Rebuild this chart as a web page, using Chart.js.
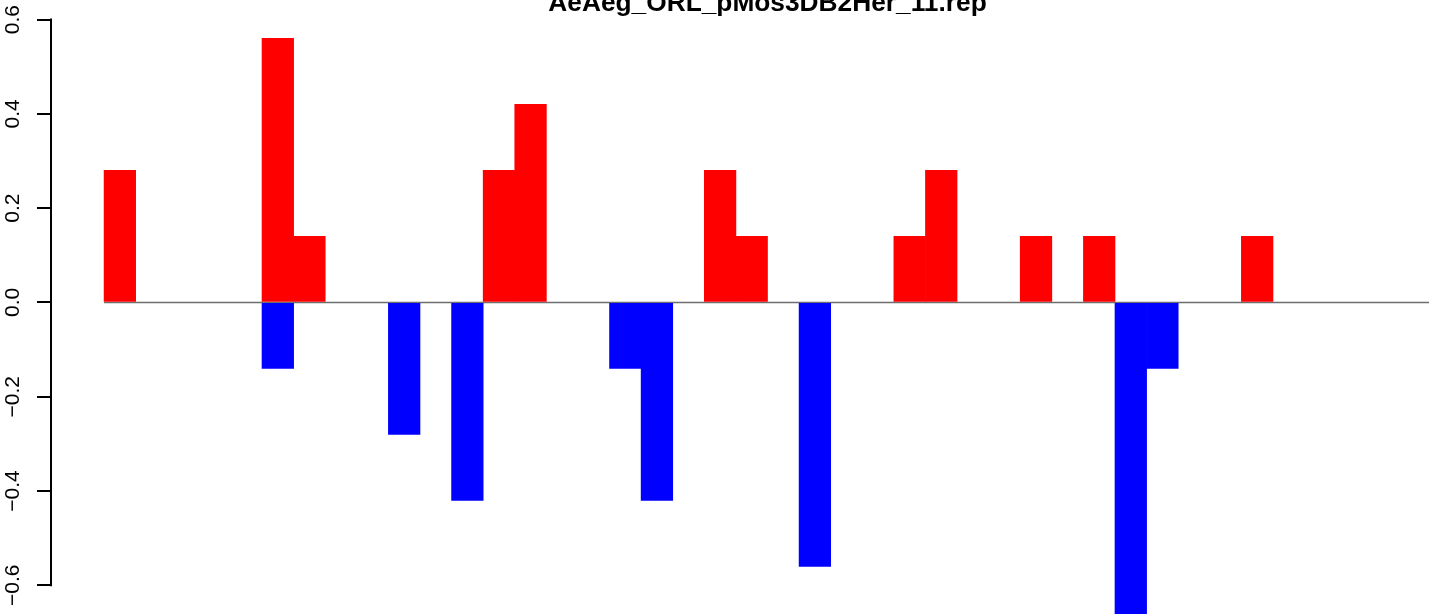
<!DOCTYPE html>
<html>
<head>
<meta charset="utf-8">
<script src="https://cdn.jsdelivr.net/npm/chart.js@4/dist/chart.umd.min.js"></script>
<style>
html, body { margin: 0; padding: 0; background: #ffffff; overflow: hidden; width: 1429px; height: 614px; }
#c { display: block; margin-top: -12px; }
</style>
</head>
<body>
<canvas id="c" width="1484" height="698"></canvas>
<script>
const chartTitle = 'AeAeg_ORL_pMos3DB2Her_11.rep';

const categories = ['1','2','3','4','5','6','7','8','9','10','11','12','13','14','15','16','17','18','19','20','21',
                    '22','23','24','25','26','27','28','29','30','31','32','33','34','35','36','37','38','39','40','41','42'];

const upValues = [0.28, 0, 0, 0, 0, 0.56, 0.14, 0, 0, 0, 0, 0, 0.28, 0.42, 0, 0, 0, 0, 0, 0.28, 0.14,
                  0, 0, 0, 0, 0.14, 0.28, 0, 0, 0.14, 0, 0.14, 0, 0, 0, 0, 0.14, 0, 0, 0, 0, 0];

const downValues = [0, 0, 0, 0, 0, -0.14, 0, 0, 0, -0.28, 0, -0.42, 0, 0, 0, 0, -0.14, -0.42, 0, 0, 0,
                    0, -0.56, 0, 0, 0, 0, 0, 0, 0, 0, 0, -0.70, -0.14, 0, 0, 0, 0, 0, 0, 0, 0];

const yTicks = [-0.6, -0.4, -0.2, 0, 0.2, 0.4, 0.6];
const yTickLabels = ['\u22120.6', '\u22120.4', '\u22120.2', '0.0', '0.2', '0.4', '0.6'];

// zero-height bars are left undrawn (null) so only the grey baseline shows there
const toPoints = vals => vals.map((v, i) => ({ x: i + 0.5, y: v === 0 ? null : v, label: categories[i] }));

const axisLinePlugin = {
  id: 'axisLine',
  afterDraw(chart) {
    const ys = chart.scales.y;
    const ctx = chart.ctx;
    const x = chart.chartArea.left;
    ctx.save();
    ctx.strokeStyle = '#000000';
    ctx.lineWidth = 2;
    ctx.lineCap = 'square';
    ctx.beginPath();
    ctx.moveTo(x, ys.getPixelForValue(yTicks[yTicks.length - 1]));
    ctx.lineTo(x, ys.getPixelForValue(yTicks[0]));
    ctx.stroke();
    ctx.restore();
  }
};

new Chart(document.getElementById('c'), {
  type: 'bar',
  data: {
    datasets: [
      {
        type: 'line',
        data: [{ x: 0, y: 0 }, { x: categories.length, y: 0 }],
        borderColor: '#6e6e6e',
        borderWidth: 1.5,
        pointRadius: 0,
        order: 5
      },
      {
        data: toPoints(upValues),
        backgroundColor: '#ff0000',
        borderWidth: 0,
        grouped: false,
        categoryPercentage: 1,
        barPercentage: 1,
        order: 1
      },
      {
        data: toPoints(downValues),
        backgroundColor: '#0000ff',
        borderWidth: 0,
        grouped: false,
        categoryPercentage: 1,
        barPercentage: 1,
        order: 1
      }
    ]
  },
  options: {
    responsive: false,
    animation: false,
    devicePixelRatio: 1,
    layout: { padding: { left: 0, right: 0, top: 0, bottom: 30 } },
    plugins: {
      legend: { display: false },
      tooltip: { enabled: false },
      title: {
        display: true,
        text: chartTitle,
        fullSize: false,
        color: '#000000',
        font: { family: 'Liberation Sans', size: 26.3, weight: 'bold', lineHeight: 1.2 },
        padding: { top: 0, bottom: 0 }
      }
    },
    scales: {
      x: {
        type: 'linear',
        display: false,
        offset: false,
        min: -1.68,
        max: 43.68
      },
      y: {
        type: 'linear',
        min: -0.75,
        max: 0.6,
        afterFit(scale) { scale.width = 51; },
        afterBuildTicks(scale) { scale.ticks = yTicks.map(v => ({ value: v })); },
        border: { display: false },
        grid: {
          drawOnChartArea: false,
          drawTicks: true,
          tickLength: 14,
          color: '#000000',
          lineWidth: 2
        },
        ticks: {
          minRotation: 90,
          maxRotation: 90,
          crossAlign: 'center',
          padding: 3,
          color: '#000000',
          font: { family: 'Liberation Sans', size: 21 },
          callback: (value) => {
            const idx = yTicks.findIndex(t => Math.abs(t - value) < 1e-9);
            return idx >= 0 ? yTickLabels[idx] : '';
          }
        }
      }
    }
  },
  plugins: [axisLinePlugin]
});
</script>
</body>
</html>
